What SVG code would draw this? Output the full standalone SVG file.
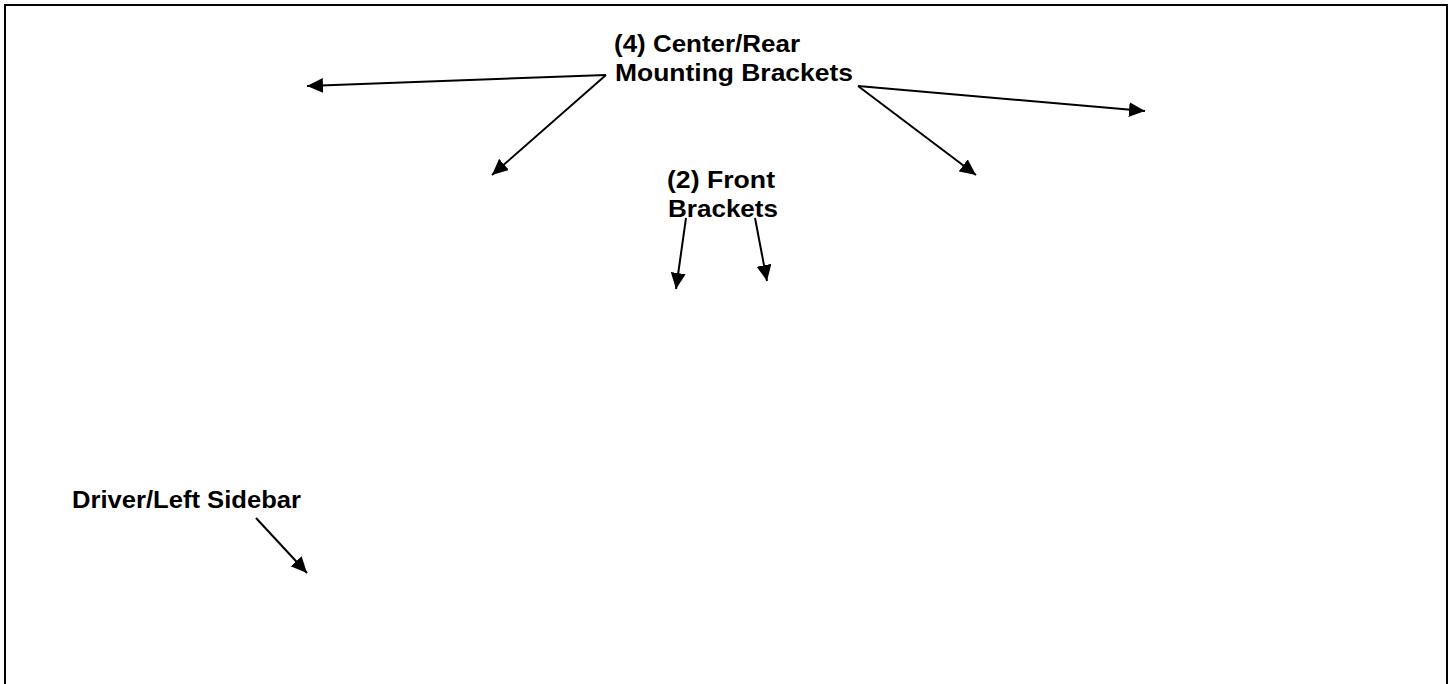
<svg xmlns="http://www.w3.org/2000/svg" width="1452" height="684" viewBox="0 0 1452 684">
<style>
.lbl{font-family:"Liberation Sans",Arial,sans-serif;font-weight:bold;font-size:24px;fill:#000}
.con{stroke:#000;stroke-width:2;fill:none;marker-end:url(#ah)}
</style>
<defs>
<marker id="ah" markerUnits="userSpaceOnUse" markerWidth="18" markerHeight="16" refX="16" refY="7.5" orient="auto" viewBox="0 0 18 16">
<path d="M0,0 L16,7.5 L0,15 z" fill="#000"/>
</marker>
</defs>
<rect x="0" y="0" width="1452" height="684" fill="#fff"/>
<rect x="5" y="5" width="1442" height="720" fill="none" stroke="#000" stroke-width="2"/>
<g id="connectors">
<line class="con" x1="606" y1="75" x2="307" y2="86"/>
<line class="con" x1="606" y1="75" x2="492" y2="175"/>
<line class="con" x1="858" y1="86" x2="1145" y2="111"/>
<line class="con" x1="858" y1="86" x2="976" y2="175"/>
<line class="con" x1="686" y1="218" x2="676" y2="289"/>
<line class="con" x1="755" y1="218" x2="767" y2="281"/>
<line class="con" x1="256" y1="518" x2="307" y2="573"/>
</g>
<g id="node-center-rear">
<text class="lbl" x="614" y="52" textLength="186" lengthAdjust="spacingAndGlyphs">(4) Center/Rear</text>
<text class="lbl" x="615" y="81" textLength="238" lengthAdjust="spacingAndGlyphs">Mounting Brackets</text>
</g>
<g id="node-front">
<text class="lbl" x="667" y="188" textLength="108" lengthAdjust="spacingAndGlyphs">(2) Front</text>
<text class="lbl" x="668" y="217" textLength="110" lengthAdjust="spacingAndGlyphs">Brackets</text>
</g>
<g id="node-driver">
<text class="lbl" x="72" y="508" textLength="229" lengthAdjust="spacingAndGlyphs">Driver/Left Sidebar</text>
</g>
</svg>
